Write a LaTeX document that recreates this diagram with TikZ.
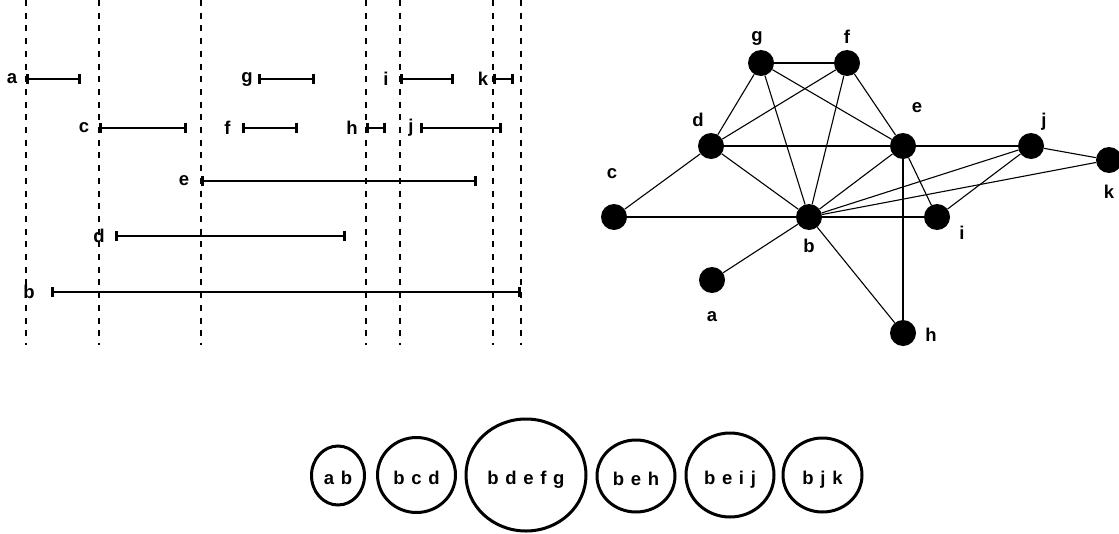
\documentclass[tikz,border=0pt]{standalone}
\usepackage{fontspec}
\setmainfont{Liberation Sans}
\newfontfamily\cliquefont[WordSpace=1.3]{Liberation Sans}
\usetikzlibrary{shapes.geometric, arrows.meta}

\begin{document}
\begin{tikzpicture}[
  x=1pt, y=-1pt,
  tag/.style={font=\bfseries\fontsize{18.5}{22}\selectfont, inner sep=0pt},
  span/.style={line width=2.8pt, {Bar[width=10.5pt]}-{Bar[width=10.5pt]}},
  guide/.style={line width=1.1pt, dash pattern=on 6pt off 6.7pt},
  vertex/.style={circle, fill=black, minimum size=26pt, inner sep=0pt},
  edge/.style={line width=1.1pt},
  clique/.style={ellipse, draw, line width=3pt, inner sep=0pt,
    text height=18pt, text depth=0pt,
    font=\cliquefont\bfseries\fontsize{18.5}{22}\selectfont}
]
\useasboundingbox (0,0) rectangle (1119,533);

% Dashed guides
\foreach \x in {26,99,201,366,400,493,521}
  \draw[guide] (\x,0) -- (\x,345);

% Intervals
\foreach \n/\s/\t/\y/\l in {a/26/81/79/12, g/258/315/79/247, i/400/454/79/386,
    k/493/514/79/483, c/99/187/128/84, f/242/298/128/227.5, h/366/386/128/352,
    j/420/502/128/411, e/201/477/181/184, d/115/346/236/99, b/51/521/292/29} {
  \node[tag] (lab\n) at (\l,\y) {\n};
  \coordinate (s\n) at (\s,\y);
  \coordinate (t\n) at (\t,\y);
  \draw[span] (s\n) -- (t\n);
}

% Graph
\foreach \n/\x/\y in {g/761/63, f/847/63, d/711/146, e/903/146, j/1031/146,
    k/1109/160, c/614/217, b/809/217, i/937/217, a/712/280, h/903/333}
  \node[vertex] (\n) at (\x,\y) {};

\foreach \n/\x/\y in {g/757/38, f/847/37, d/698/120, e/917/108, j/1044/122,
    k/1109/192, c/612/174, b/809/245.5, i/962/233, a/712/317, h/931/335}
  \node[tag] (name\n) at (\x,\y) {\n};

\foreach \u/\v in {g/f, g/d, g/b, g/e, f/d, f/b, f/e, d/e, d/c, d/b, c/b,
    e/b, e/j, e/i, e/h, b/i, b/j, b/k, b/a, b/h, j/k, j/i}
  \draw[edge] (\u) -- (\v);

% Cliques
\node[clique, minimum width=53pt, minimum height=59pt] (cab) at (338,475.5) {a b};
\node[clique, minimum width=78pt, minimum height=75pt] (cbcd) at (416.5,475) {b c d};
\node[clique, minimum width=120pt, minimum height=112pt] (cbdefg) at (526,475) {b d e f g};
\node[clique, minimum width=78pt, minimum height=72pt] (cbeh) at (636,476) {b e h};
\node[clique, minimum width=88pt, minimum height=84pt] (cbeij) at (730,475) {b e i j};
\node[clique, minimum width=79pt, minimum height=74pt] (cbjk) at (822.5,475) {b j k};
\end{tikzpicture}
\end{document}
